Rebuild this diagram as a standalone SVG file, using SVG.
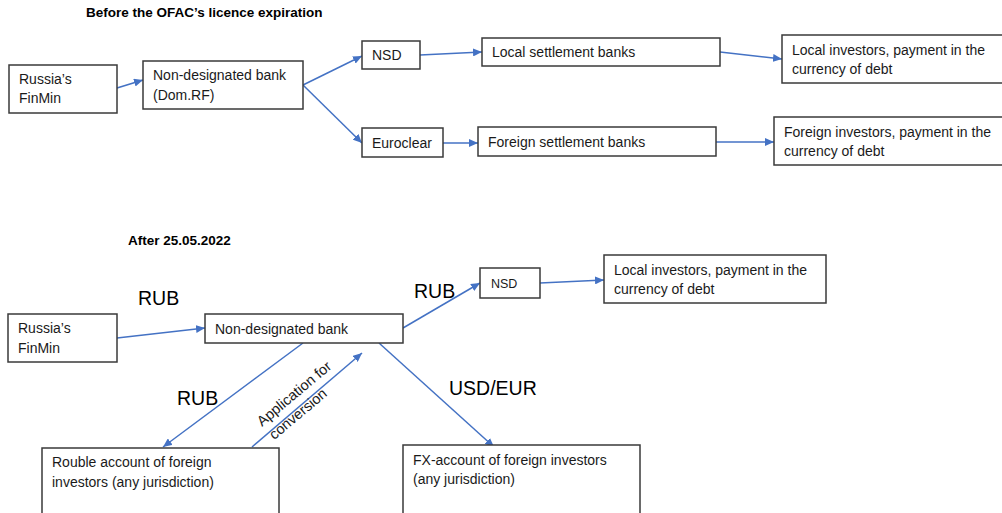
<svg xmlns="http://www.w3.org/2000/svg" width="1002" height="513" viewBox="0 0 1002 513">
<style>
.box{fill:#fff;stroke:#3a3a3a;stroke-width:1.5}
.t{font-family:"Liberation Sans",Arial,sans-serif;font-size:14px;fill:#1a1a1a}
.h{font-family:"Liberation Sans",Arial,sans-serif;font-size:13.5px;font-weight:bold;fill:#000}
.big{font-family:"Liberation Sans",Arial,sans-serif;font-size:19.5px;fill:#000}
.c{stroke:#4472C4;stroke-width:1.5;fill:none;marker-end:url(#ah)}
</style>
<defs>
<marker id="ah" markerUnits="userSpaceOnUse" markerWidth="10" markerHeight="8" refX="9" refY="4" orient="auto">
<path d="M0,0 L9,4 L0,8 z" fill="#4472C4"/>
</marker>
</defs>
<rect width="1002" height="513" fill="#fff"/>
<text class="h" x="86" y="17">Before the OFAC’s licence expiration</text>
<text class="h" x="128" y="245">After 25.05.2022</text>

<g id="connectors">
<line class="c" x1="117" y1="88" x2="143" y2="80"/>
<line class="c" x1="303" y1="85" x2="362" y2="56"/>
<line class="c" x1="303" y1="85" x2="362" y2="143"/>
<line class="c" x1="420" y1="55" x2="482" y2="52"/>
<line class="c" x1="443" y1="143" x2="478" y2="143"/>
<line class="c" x1="720" y1="52" x2="782" y2="59"/>
<line class="c" x1="716" y1="142" x2="774" y2="142"/>

<line class="c" x1="117" y1="338" x2="205" y2="328"/>
<line class="c" x1="403" y1="328" x2="480" y2="283"/>
<line class="c" x1="540" y1="283" x2="604" y2="280"/>
<line class="c" x1="379" y1="343" x2="494" y2="447"/>
<line class="c" x1="303" y1="343" x2="163" y2="447"/>
<line class="c" x1="252" y1="447" x2="362" y2="353"/>
<text class="big" x="138" y="305">RUB</text>
<text class="big" x="414" y="298">RUB</text>
<text class="big" x="177" y="405">RUB</text>
<text class="big" x="449" y="395">USD/EUR</text>
<g transform="translate(262,427) rotate(-40)">
<text class="t" x="0" y="0" style="font-size:14.5px">Application for</text>
<text class="t" x="1" y="18" style="font-size:14.5px">conversion</text>
</g>
</g>

<g id="n-finmin1"><rect class="box" x="9" y="65" width="108" height="48"/><text class="t" x="19" y="84">Russia’s</text><text class="t" x="19" y="103">FinMin</text></g>
<g id="n-ndb1"><rect class="box" x="143" y="61" width="160" height="48"/><text class="t" x="153" y="80">Non-designated bank</text><text class="t" x="153" y="100">(Dom.RF)</text></g>
<g id="n-nsd1"><rect class="box" x="362" y="41" width="58" height="28"/><text class="t" x="372" y="60">NSD</text></g>
<g id="n-euroclear"><rect class="box" x="362" y="128" width="81" height="29"/><text class="t" x="372" y="148">Euroclear</text></g>
<g id="n-localbanks"><rect class="box" x="482" y="38" width="238" height="28"/><text class="t" x="492" y="57">Local settlement banks</text></g>
<g id="n-foreignbanks"><rect class="box" x="478" y="127" width="238" height="29"/><text class="t" x="488" y="147">Foreign settlement banks</text></g>
<g id="n-localinv1"><rect class="box" x="782" y="35" width="230" height="48"/><text class="t" x="792" y="55">Local investors, payment in the</text><text class="t" x="792" y="74">currency of debt</text></g>
<g id="n-foreigninv"><rect class="box" x="774" y="117" width="238" height="48"/><text class="t" x="784" y="137">Foreign investors, payment in the</text><text class="t" x="784" y="156">currency of debt</text></g>

<g id="n-finmin2"><rect class="box" x="8" y="314" width="109" height="48"/><text class="t" x="18" y="333">Russia’s</text><text class="t" x="18" y="353">FinMin</text></g>
<g id="n-ndb2"><rect class="box" x="205" y="314" width="198" height="29"/><text class="t" x="215" y="334">Non-designated bank</text></g>
<g id="n-nsd2"><rect class="box" x="480" y="268" width="60" height="30"/><text class="t" x="491" y="288" style="font-size:12.5px">NSD</text></g>
<g id="n-localinv2"><rect class="box" x="604" y="255" width="222" height="48"/><text class="t" x="614" y="275">Local investors, payment in the</text><text class="t" x="614" y="294">currency of debt</text></g>
<g id="n-rouble"><rect class="box" x="42" y="448" width="237" height="70"/><text class="t" x="52" y="467">Rouble account of foreign</text><text class="t" x="52" y="487">investors (any jurisdiction)</text></g>
<g id="n-fx"><rect class="box" x="403" y="445" width="237" height="73"/><text class="t" x="413" y="465">FX-account of foreign investors</text><text class="t" x="413" y="484">(any jurisdiction)</text></g>
</svg>
